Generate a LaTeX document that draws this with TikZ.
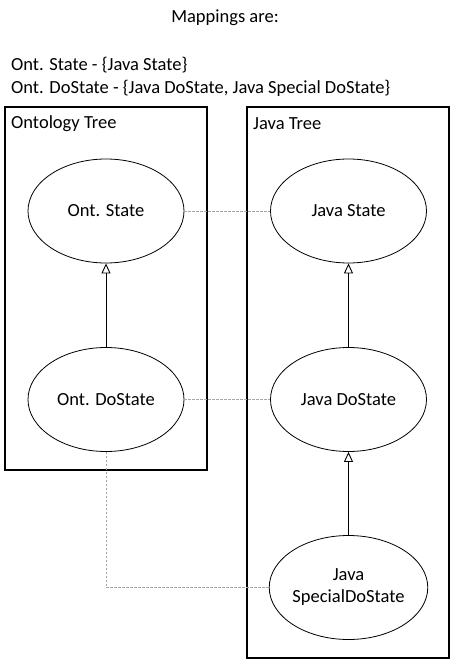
\documentclass[tikz,border=0pt]{standalone}
\usepackage{fontspec}
\setmainfont{Carlito}
\usetikzlibrary{arrows.meta,shapes.geometric}
\begin{document}
\begin{tikzpicture}[x=1pt,y=-1pt,
  every node/.style={font=\fontsize{18.5}{22}\selectfont},
  frame/.style={draw=black,line width=2pt},
  st/.style={draw=black,line width=0.8pt,ellipse,minimum width=156pt,minimum height=104pt,inner sep=0pt,align=center},
  inh/.style={draw=black,line width=0.9pt,-{Triangle[open,width=9pt,length=10pt,fill=white]}},
  map/.style={draw=black!35,line width=0.8pt,dash pattern=on 2.5pt off 1.5pt}]
\useasboundingbox (0,0) rectangle (451,661);
\node (title) at (225,18) {Mappings are:};
\node[anchor=west,inner sep=0pt] (m1) at (11,65) {Ont. State - \{Java State\}};
\node[anchor=west,inner sep=0pt] (m2) at (11,88) {Ont. DoState - \{Java DoState, Java Special DoState\}};
\draw[frame] (5,107) rectangle (207,470);
\draw[frame] (247,107) rectangle (449,658);
\node[anchor=west,inner sep=0pt] (l1) at (11,124) {Ontology Tree};
\node[anchor=west,inner sep=0pt] (l2) at (253,124) {Java Tree};
\node[st] (os) at (106,211) {Ont. State};
\node[st] (js) at (348.5,211) {Java State};
\node[st] (od) at (106,399.5) {Ont. DoState};
\node[st] (jd) at (348.5,399.5) {Java DoState};
\node[st] (jsd) at (348.5,587.5) {Java\\SpecialDoState};
\draw[map] (os.east) -- (js.west);
\draw[map] (od.east) -- (jd.west);
\draw[map] (od.south) |- (jsd.west);
\draw[inh] (od.north) -- (os.south);
\draw[inh] (jd.north) -- (js.south);
\draw[inh] (jsd.north) -- (jd.south);
\end{tikzpicture}
\end{document}
